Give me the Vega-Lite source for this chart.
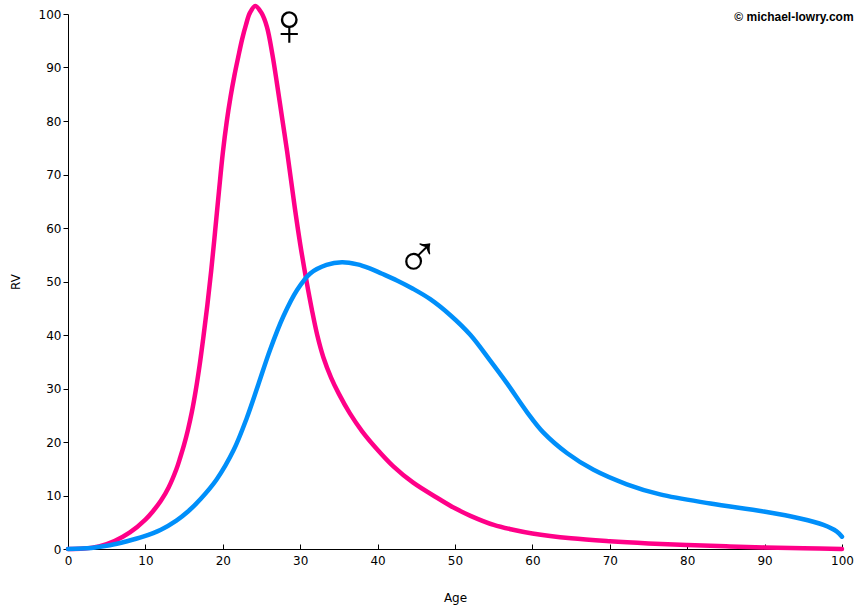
{
  "$schema": "https://vega.github.io/schema/vega-lite/v6.json",
  "width": 774,
  "height": 535,
  "autosize": "none",
  "padding": {"left": 68, "top": 14, "right": 17, "bottom": 61},
  "background": "white",
  "config": {
    "view": {"stroke": null},
    "axis": {
      "grid": false,
      "labelFont": "DejaVu Sans",
      "labelFontSize": 12,
      "labelColor": "black",
      "titleFont": "DejaVu Sans",
      "titleFontSize": 12,
      "titleFontWeight": "normal",
      "titleColor": "black",
      "domainColor": "black",
      "tickColor": "black"
    }
  },
  "datasets": {
    "curves": [
      {"Age": 0, "RV": 0, "Sex": "Female"},
      {"Age": 2, "RV": 0.1, "Sex": "Female"},
      {"Age": 4, "RV": 0.5, "Sex": "Female"},
      {"Age": 6, "RV": 1.5, "Sex": "Female"},
      {"Age": 8, "RV": 3.1, "Sex": "Female"},
      {"Age": 10, "RV": 5.5, "Sex": "Female"},
      {"Age": 11, "RV": 7.1, "Sex": "Female"},
      {"Age": 12, "RV": 9, "Sex": "Female"},
      {"Age": 13, "RV": 11.5, "Sex": "Female"},
      {"Age": 14, "RV": 14.9, "Sex": "Female"},
      {"Age": 14.5, "RV": 17.1, "Sex": "Female"},
      {"Age": 15, "RV": 19.5, "Sex": "Female"},
      {"Age": 15.5, "RV": 22.3, "Sex": "Female"},
      {"Age": 16, "RV": 25.6, "Sex": "Female"},
      {"Age": 16.5, "RV": 29.6, "Sex": "Female"},
      {"Age": 17, "RV": 34.3, "Sex": "Female"},
      {"Age": 17.5, "RV": 39.7, "Sex": "Female"},
      {"Age": 18, "RV": 45.5, "Sex": "Female"},
      {"Age": 18.5, "RV": 52, "Sex": "Female"},
      {"Age": 19, "RV": 59.3, "Sex": "Female"},
      {"Age": 19.5, "RV": 66.8, "Sex": "Female"},
      {"Age": 20, "RV": 74, "Sex": "Female"},
      {"Age": 20.5, "RV": 79.8, "Sex": "Female"},
      {"Age": 21, "RV": 84.5, "Sex": "Female"},
      {"Age": 21.5, "RV": 88.5, "Sex": "Female"},
      {"Age": 22, "RV": 92, "Sex": "Female"},
      {"Age": 22.5, "RV": 95.3, "Sex": "Female"},
      {"Age": 23, "RV": 98, "Sex": "Female"},
      {"Age": 23.5, "RV": 100.2, "Sex": "Female"},
      {"Age": 24.2, "RV": 101.5, "Sex": "Female"},
      {"Age": 25, "RV": 100.2, "Sex": "Female"},
      {"Age": 25.7, "RV": 97.6, "Sex": "Female"},
      {"Age": 26.4, "RV": 92.5, "Sex": "Female"},
      {"Age": 27, "RV": 87, "Sex": "Female"},
      {"Age": 27.7, "RV": 80.2, "Sex": "Female"},
      {"Age": 28.3, "RV": 74.4, "Sex": "Female"},
      {"Age": 29.3, "RV": 63.8, "Sex": "Female"},
      {"Age": 30, "RV": 57, "Sex": "Female"},
      {"Age": 30.8, "RV": 50.2, "Sex": "Female"},
      {"Age": 31.5, "RV": 44.8, "Sex": "Female"},
      {"Age": 32.2, "RV": 40, "Sex": "Female"},
      {"Age": 33, "RV": 35.8, "Sex": "Female"},
      {"Age": 34, "RV": 32, "Sex": "Female"},
      {"Age": 35, "RV": 29, "Sex": "Female"},
      {"Age": 36.4, "RV": 25.4, "Sex": "Female"},
      {"Age": 38, "RV": 22, "Sex": "Female"},
      {"Age": 39.9, "RV": 18.7, "Sex": "Female"},
      {"Age": 42, "RV": 15.5, "Sex": "Female"},
      {"Age": 44.6, "RV": 12.4, "Sex": "Female"},
      {"Age": 48, "RV": 9.3, "Sex": "Female"},
      {"Age": 50, "RV": 7.6, "Sex": "Female"},
      {"Age": 52, "RV": 6.2, "Sex": "Female"},
      {"Age": 55, "RV": 4.5, "Sex": "Female"},
      {"Age": 57.5, "RV": 3.6, "Sex": "Female"},
      {"Age": 60, "RV": 2.9, "Sex": "Female"},
      {"Age": 65, "RV": 2, "Sex": "Female"},
      {"Age": 70, "RV": 1.45, "Sex": "Female"},
      {"Age": 75, "RV": 1.05, "Sex": "Female"},
      {"Age": 80, "RV": 0.75, "Sex": "Female"},
      {"Age": 85, "RV": 0.5, "Sex": "Female"},
      {"Age": 90, "RV": 0.3, "Sex": "Female"},
      {"Age": 95, "RV": 0.13, "Sex": "Female"},
      {"Age": 100, "RV": 0, "Sex": "Female"},
      {"Age": 0, "RV": 0, "Sex": "Male"},
      {"Age": 3, "RV": 0.2, "Sex": "Male"},
      {"Age": 5.4, "RV": 0.7, "Sex": "Male"},
      {"Age": 7.5, "RV": 1.4, "Sex": "Male"},
      {"Age": 9.7, "RV": 2.3, "Sex": "Male"},
      {"Age": 12, "RV": 3.6, "Sex": "Male"},
      {"Age": 14, "RV": 5.3, "Sex": "Male"},
      {"Age": 15.5, "RV": 7, "Sex": "Male"},
      {"Age": 17.1, "RV": 9.3, "Sex": "Male"},
      {"Age": 19.2, "RV": 13, "Sex": "Male"},
      {"Age": 21.4, "RV": 18.5, "Sex": "Male"},
      {"Age": 23.1, "RV": 24.5, "Sex": "Male"},
      {"Age": 24.6, "RV": 30.8, "Sex": "Male"},
      {"Age": 26.1, "RV": 37.2, "Sex": "Male"},
      {"Age": 27.8, "RV": 43.4, "Sex": "Male"},
      {"Age": 29.6, "RV": 48.4, "Sex": "Male"},
      {"Age": 31.3, "RV": 51.5, "Sex": "Male"},
      {"Age": 33.4, "RV": 53.1, "Sex": "Male"},
      {"Age": 35.4, "RV": 53.6, "Sex": "Male"},
      {"Age": 37.4, "RV": 53.2, "Sex": "Male"},
      {"Age": 38.9, "RV": 52.5, "Sex": "Male"},
      {"Age": 40.5, "RV": 51.5, "Sex": "Male"},
      {"Age": 42.5, "RV": 50.2, "Sex": "Male"},
      {"Age": 44.5, "RV": 48.7, "Sex": "Male"},
      {"Age": 46.8, "RV": 46.7, "Sex": "Male"},
      {"Age": 49.4, "RV": 43.7, "Sex": "Male"},
      {"Age": 52, "RV": 40, "Sex": "Male"},
      {"Age": 54.5, "RV": 35.3, "Sex": "Male"},
      {"Age": 56.7, "RV": 31, "Sex": "Male"},
      {"Age": 59.3, "RV": 25.6, "Sex": "Male"},
      {"Age": 61.4, "RV": 21.8, "Sex": "Male"},
      {"Age": 64.5, "RV": 17.9, "Sex": "Male"},
      {"Age": 67.9, "RV": 14.8, "Sex": "Male"},
      {"Age": 72.2, "RV": 12.1, "Sex": "Male"},
      {"Age": 76.5, "RV": 10.2, "Sex": "Male"},
      {"Age": 83, "RV": 8.5, "Sex": "Male"},
      {"Age": 89.9, "RV": 7, "Sex": "Male"},
      {"Age": 94.6, "RV": 5.7, "Sex": "Male"},
      {"Age": 97.6, "RV": 4.5, "Sex": "Male"},
      {"Age": 99.3, "RV": 3.3, "Sex": "Male"},
      {"Age": 100, "RV": 2.3, "Sex": "Male"}
    ],
    "symbols": [
      {"Age": 28.6, "RV": 97.6, "label": "♀"},
      {"Age": 45.2, "RV": 54.2, "label": "♂"}
    ],
    "credit": [
      {"Age": 101.5, "RV": 98.7, "label": "© michael-lowry.com"}
    ]
  },
  "layer": [
    {
      "data": {"name": "curves"},
      "mark": {"type": "line", "interpolate": "catmull-rom", "strokeWidth": 4.5, "strokeCap": "round"},
      "encoding": {
        "x": {
          "field": "Age", "type": "quantitative",
          "scale": {"domain": [0, 100], "nice": false},
          "axis": {"title": "Age", "values": [0, 10, 20, 30, 40, 50, 60, 70, 80, 90, 100],
                   "tickSize": -5, "labelPadding": 11, "titlePadding": 26, "labelFlush": false}
        },
        "y": {
          "field": "RV", "type": "quantitative",
          "scale": {"domain": [0, 100], "nice": false},
          "axis": {"title": "RV", "values": [0, 10, 20, 30, 40, 50, 60, 70, 80, 90, 100],
                   "tickSize": 5, "labelPadding": 2, "titlePadding": 16}
        },
        "color": {
          "field": "Sex", "type": "nominal",
          "scale": {"domain": ["Female", "Male"], "range": ["#ff0088", "#008ffa"]},
          "legend": null
        },
        "order": {"field": "Sex", "sort": "ascending"}
      }
    },
    {
      "data": {"name": "symbols"},
      "mark": {"type": "text", "font": "Liberation Sans", "fontSize": 60, "align": "center", "baseline": "middle", "color": "black"},
      "encoding": {
        "x": {"field": "Age", "type": "quantitative"},
        "y": {"field": "RV", "type": "quantitative"},
        "text": {"field": "label"}
      }
    },
    {
      "data": {"name": "credit"},
      "mark": {"type": "text", "font": "Liberation Sans", "fontSize": 12, "fontWeight": "bold", "align": "right", "baseline": "alphabetic", "color": "black"},
      "encoding": {
        "x": {"field": "Age", "type": "quantitative"},
        "y": {"field": "RV", "type": "quantitative"},
        "text": {"field": "label"}
      }
    }
  ]
}
